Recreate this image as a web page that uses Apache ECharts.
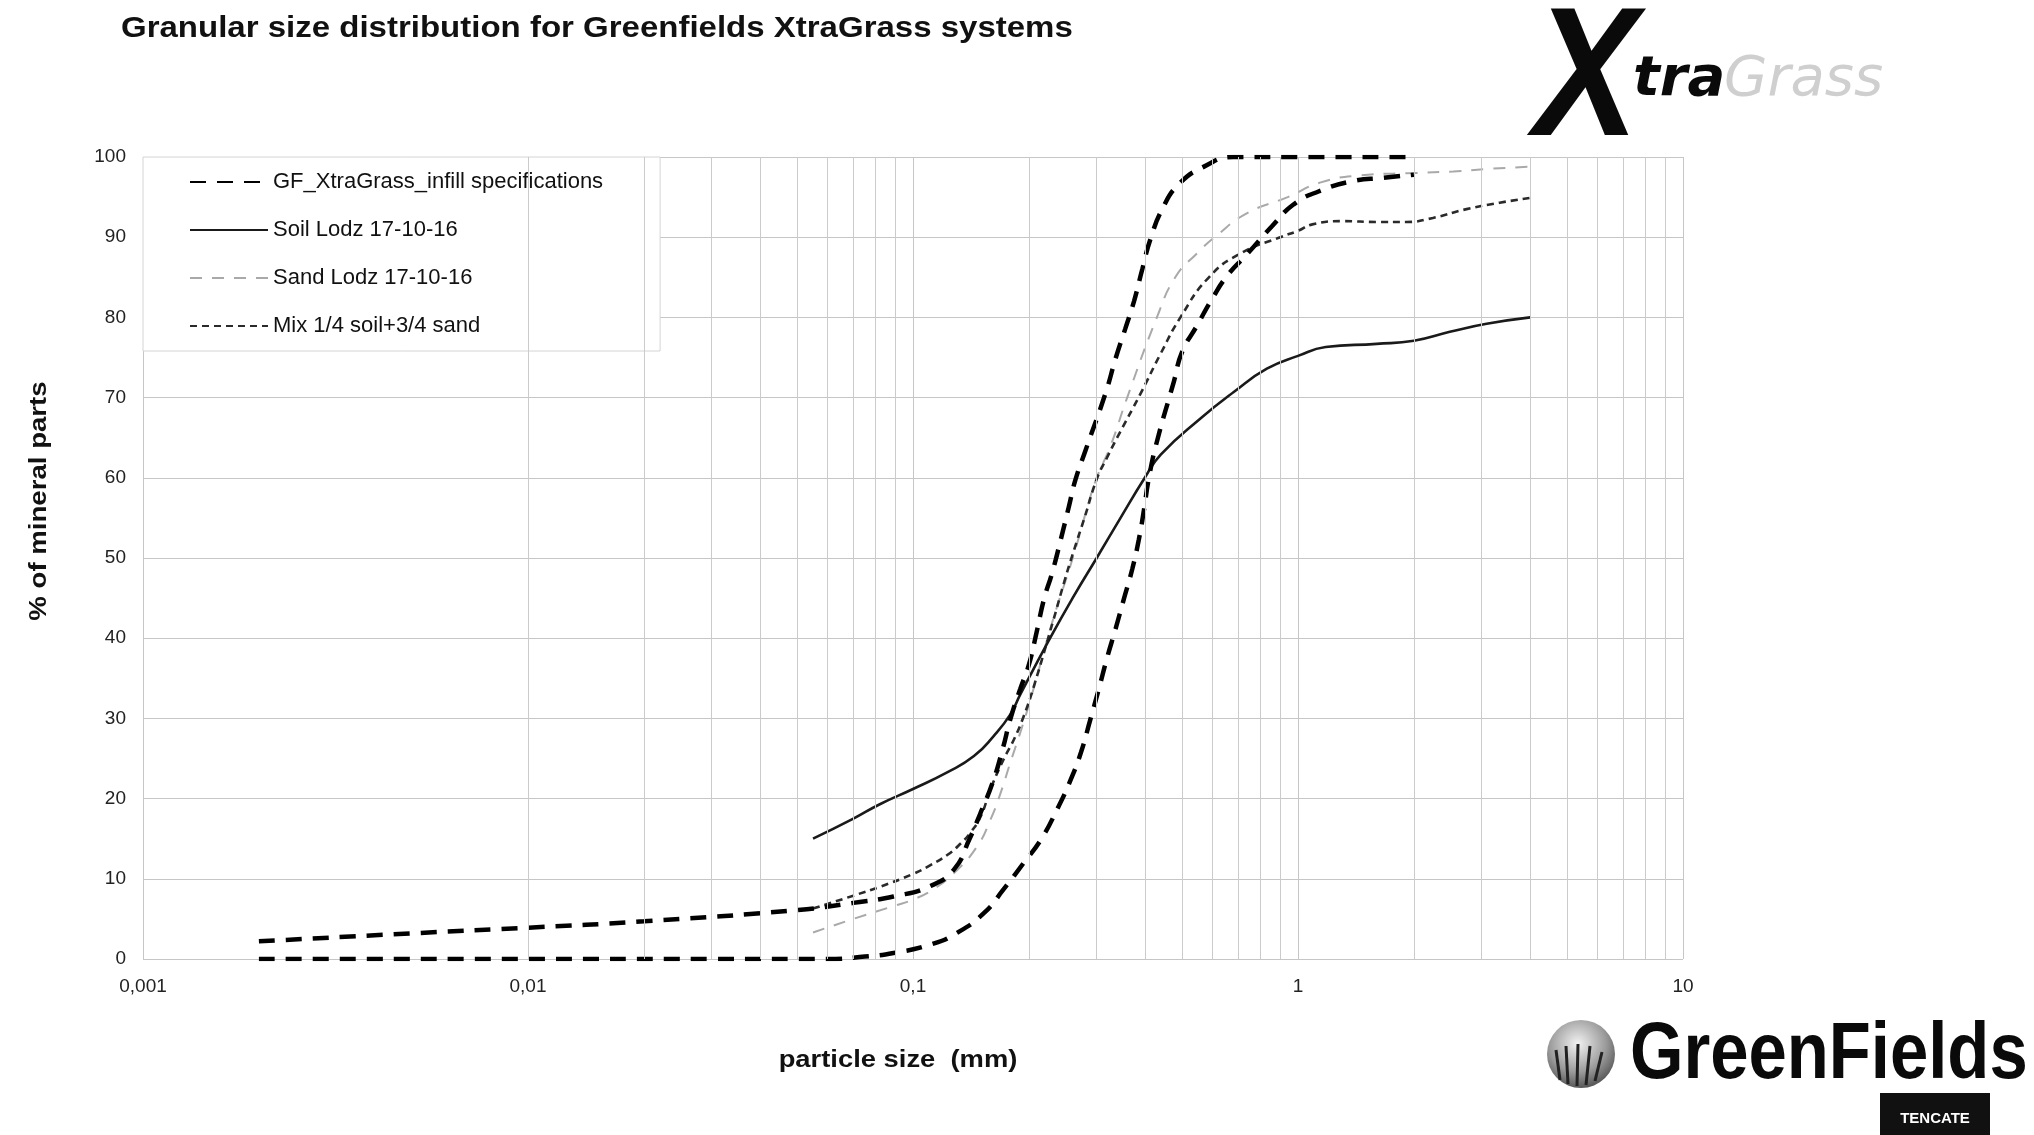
<!DOCTYPE html>
<html><head><meta charset="utf-8">
<script src="https://cdn.jsdelivr.net/npm/echarts/dist/echarts.min.js"></script>
<style>html,body{margin:0;padding:0;background:#fff}#chart{width:2034px;height:1135px}</style>
</head><body><div id="chart"></div>
<script>
const titleText = 'Granular size distribution for Greenfields XtraGrass systems';
const xAxisTitle = 'particle size  (mm)';
const yAxisTitle = '% of mineral parts';
const seriesNames = ['GF_XtraGrass_infill specifications', 'Soil Lodz 17-10-16', 'Sand Lodz 17-10-16', 'Mix 1/4 soil+3/4 sand'];
const xTickLabels = ['0,001', '0,01', '0,1', '1', '10'];
const minorGrid = [0.002,0.003,0.004,0.005,0.006,0.007,0.008,0.009,
  0.02,0.03,0.04,0.05,0.06,0.07,0.08,0.09,
  0.2,0.3,0.4,0.5,0.6,0.7,0.8,0.9,
  2,3,4,5,6,7,8,9];

// GF spec – fine (upper) boundary
const specUpperSize = [0.002,0.005,0.01,0.02,0.05,0.07,0.089,0.111,0.128,0.14,0.15,0.161,0.171,0.179,0.19,0.2,0.21,0.219,0.23,0.242,0.254,0.264,0.281,0.317,0.336,0.356,0.375,0.394,0.414,0.444,0.49,0.57,0.68,1,2];
const specUpperPct  = [2.2,3.2,3.9,4.7,6.1,7.0,7.8,9.1,11.2,14.9,18.3,22,26.2,29.9,33.7,36.7,41,44.9,48.2,52.3,56.4,59.7,63.5,70.7,74.9,78.6,82,86,89.8,93.5,96.6,98.8,100,100,100];
// GF spec – coarse (lower) boundary
const specLowerSize = [0.002,0.01,0.03,0.06,0.075,0.089,0.111,0.13,0.153,0.172,0.194,0.215,0.237,0.257,0.273,0.289,0.304,0.319,0.336,0.353,0.371,0.386,0.398,0.41,0.43,0.476,0.5,0.547,0.598,0.655,0.738,0.857,0.975,1.13,1.39,1.66,2];
const specLowerPct  = [0,0,0,0,0.3,0.75,1.8,3.25,5.75,8.7,12,14.9,18.7,22.4,25.75,29.9,33.7,37.5,41.2,44.9,48.6,52.3,56,60,64.5,72,75.7,79,82.3,85.2,87.9,91.4,94.1,95.7,97,97.4,97.8];
// Soil Lodz
const soilSize = [0.055,0.07,0.082,0.1,0.123,0.144,0.162,0.179,0.19,0.227,0.262,0.3,0.346,0.4,0.44,0.558,0.681,0.83,1.0,1.18,1.6,2,2.48,3.09,4.01];
const soilPct  = [15,17.5,19.3,21.2,23.3,25.3,27.8,30.5,33,40,45.3,50,55,60,62.9,67.4,70.7,73.6,75.2,76.3,76.7,77.1,78.2,79.2,80];
// Sand Lodz
const sandSize = [0.055,0.07,0.089,0.1,0.113,0.128,0.147,0.159,0.169,0.179,0.19,0.202,0.23,0.26,0.284,0.3,0.326,0.36,0.43,0.48,0.547,0.611,0.738,0.94,1.14,1.45,2,2.53,3.09,4.01];
const sandPct  = [3.3,5,6.6,7.4,8.7,10.75,14.1,17.4,20.75,24.5,28.25,32.4,42,50,56.4,60,64,70,80,85,88,90.1,93,95,96.8,97.7,98,98.2,98.5,98.8];
// Mix 1/4 soil + 3/4 sand
const mixSize = [0.055,0.07,0.082,0.1,0.111,0.123,0.133,0.141,0.15,0.159,0.172,0.183,0.194,0.206,0.232,0.247,0.262,0.278,0.301,0.319,0.339,0.39,0.44,0.495,0.587,0.71,0.9,1.0,1.09,1.31,1.6,1.91,2.24,2.74,3.34,4.01];
const mixPct  = [6.3,7.9,9.0,10.6,11.7,13.0,14.4,15.75,17.8,21.2,24.9,27.4,30.3,34,42.4,47,51,54.8,60,62.5,65,70.5,75.5,80,85,88,90,90.8,91.6,92,91.9,91.9,92.4,93.5,94.3,94.9];

const zip = (xs, ys) => xs.map((x, i) => [x, ys[i]]);
const FONT = 'Liberation Sans, Arial, sans-serif';

const lineBase = {type: 'line', symbol: 'none', smooth: 0.5, silent: true};

const chart = echarts.init(document.getElementById('chart'), null, {renderer: 'canvas'});
chart.setOption({
  animation: false,
  backgroundColor: '#fff',
  grid: {left: 143, right: 351, top: 157, bottom: 176, containLabel: false},
  legend: {
    data: seriesNames,
    orient: 'vertical', left: 143, top: 157,
    itemWidth: 78, itemHeight: 14, itemGap: 26,
    padding: [14, 57, 14, 46],
    backgroundColor: '#fff', borderColor: '#d4d4d4', borderWidth: 1, borderRadius: 0,
    itemStyle: {opacity: 0},
    textStyle: {fontFamily: FONT, fontSize: 22, color: '#111'}
  },
  xAxis: {
    type: 'log', logBase: 10, min: 0.001, max: 10,
    axisLine: {show: false}, axisTick: {show: false},
    axisLabel: {
      margin: 18, fontFamily: FONT, fontSize: 19, color: '#222',
      formatter: v => xTickLabels[Math.round(Math.log10(v)) + 3]
    },
    splitLine: {show: true, lineStyle: {color: '#c6c6c6', width: 1}}
  },
  yAxis: {
    type: 'value', min: 0, max: 100, interval: 10,
    axisLine: {show: false}, axisTick: {show: false},
    axisLabel: {margin: 17, fontFamily: FONT, fontSize: 19, color: '#222'},
    splitLine: {show: true, lineStyle: {color: '#c6c6c6', width: 1}}
  },
  graphic: [
    {type: 'text', x: 121, y: 29, scaleX: 1.1, style: {text: titleText, font: 'bold 30px ' + FONT, fill: '#111', textAlign: 'left', textVerticalAlign: 'middle'}},
    {type: 'text', x: 898, y: 1060, scaleX: 1.14, style: {text: xAxisTitle, font: 'bold 24px ' + FONT, fill: '#111', textAlign: 'center', textVerticalAlign: 'middle'}},
    {type: 'text', x: 39, y: 501, rotation: Math.PI / 2, scaleX: 1.15, style: {text: yAxisTitle, font: 'bold 24px ' + FONT, fill: '#111', textAlign: 'center', textVerticalAlign: 'middle'}},
    // XtraGrass logo
    {type: 'text', x: 1534, y: 84, scaleX: 0.85, style: {text: 'X', font: 'italic bold 184px ' + FONT, fill: '#0a0a0a', textAlign: 'left', textVerticalAlign: 'middle'}},
    {type: 'text', x: 1633, y: 80, style: {text: 'tra', font: 'italic bold 56px DejaVu Sans, sans-serif', fill: '#0a0a0a', textAlign: 'left', textVerticalAlign: 'middle'}},
    {type: 'text', x: 1724, y: 80, style: {text: 'Grass', font: 'italic 56px DejaVu Sans, sans-serif', fill: '#cfcfcf', textAlign: 'left', textVerticalAlign: 'middle'}},
    // GreenFields logo
    {type: 'circle', shape: {cx: 1581, cy: 1054, r: 34}, style: {fill: new echarts.graphic.RadialGradient(0.45, 0.35, 0.7, [{offset: 0, color: '#f2f2f2'}, {offset: 0.6, color: '#9a9a9a'}, {offset: 1, color: '#4a4a4a'}])}},
    {type: 'polyline', shape: {points: [[1560, 1080], [1556, 1050]]}, style: {stroke: '#222', lineWidth: 3}},
    {type: 'polyline', shape: {points: [[1568, 1084], [1566, 1046]]}, style: {stroke: '#222', lineWidth: 3}},
    {type: 'polyline', shape: {points: [[1577, 1086], [1578, 1044]]}, style: {stroke: '#222', lineWidth: 3}},
    {type: 'polyline', shape: {points: [[1586, 1085], [1590, 1046]]}, style: {stroke: '#222', lineWidth: 3}},
    {type: 'polyline', shape: {points: [[1595, 1081], [1602, 1052]]}, style: {stroke: '#222', lineWidth: 3}},
    {type: 'text', x: 1630, y: 1056, scaleX: 0.86, style: {text: 'GreenFields', font: 'bold 80px ' + FONT, fill: '#0a0a0a', textAlign: 'left', textVerticalAlign: 'middle'}},
    {type: 'rect', shape: {x: 1880, y: 1093, width: 110, height: 42}, style: {fill: '#111'}},
    {type: 'text', x: 1935, y: 1119, style: {text: 'TENCATE', font: 'bold 15px ' + FONT, fill: '#fff', textAlign: 'center', textVerticalAlign: 'middle'}}
  ],
  series: [
    {
      type: 'line', name: '', data: [], silent: true,
      markLine: {
        silent: true, symbol: ['none', 'none'], label: {show: false}, animation: false,
        lineStyle: {color: '#cbcbcb', width: 1, type: 'solid'},
        data: minorGrid.map(v => ({xAxis: v}))
      }
    },
    Object.assign({}, lineBase, {name: seriesNames[2], data: zip(sandSize, sandPct), lineStyle: {color: '#a9a9a9', width: 2, type: [12, 10]}, itemStyle: {color: '#a9a9a9'}}),
    Object.assign({}, lineBase, {name: seriesNames[3], data: zip(mixSize, mixPct), lineStyle: {color: '#2a2a2a', width: 2.6, type: [7, 5]}, itemStyle: {color: '#2a2a2a'}}),
    Object.assign({}, lineBase, {name: seriesNames[1], data: zip(soilSize, soilPct), lineStyle: {color: '#1a1a1a', width: 2.6, type: 'solid'}, itemStyle: {color: '#1a1a1a'}}),
    Object.assign({}, lineBase, {name: seriesNames[0], data: zip(specUpperSize, specUpperPct), lineStyle: {color: '#000', width: 4.5, type: [16, 11]}, itemStyle: {color: '#000'}}),
    Object.assign({}, lineBase, {name: seriesNames[0], data: zip(specLowerSize, specLowerPct), lineStyle: {color: '#000', width: 4.5, type: [16, 11]}, itemStyle: {color: '#000'}})
  ]
});
</script></body></html>
